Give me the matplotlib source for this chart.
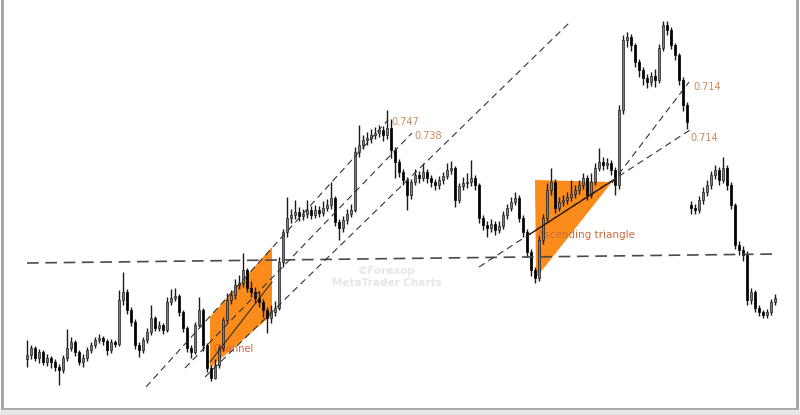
import numpy as np
import matplotlib
matplotlib.use('Agg')
import matplotlib.pyplot as plt
from matplotlib.patches import Polygon

# Candles (price level in chart units, one bar per period)
opens = [50, 54, 61, 51, 57, 47, 51, 47, 42, 39,
         51, 61, 67, 57, 47, 51, 59, 64, 69, 71,
         68, 59, 67, 65, 109, 117, 99, 87, 64, 59,
         69, 77, 91, 81, 84, 79, 107, 111, 113, 97,
         81, 61, 57, 84, 99, 64, 41, 31, 44, 61,
         89, 109, 114, 124, 126, 139, 121, 117, 111, 107,
         99, 91, 97, 101, 147, 177, 191, 194, 197, 193,
         195, 199, 194, 199, 196, 201, 204, 211, 187, 181,
         189, 195, 199, 257, 264, 269, 271, 274, 276, 279,
         274, 281, 259, 247, 237, 229, 214, 227, 234, 231,
         237, 231, 227, 224, 229, 233, 239, 241, 209, 223,
         226, 227, 231, 224, 191, 184, 181, 185, 179, 183,
         194, 201, 207, 211, 191, 177, 157, 139, 131, 169,
         191, 219, 227, 201, 207, 209, 212, 215, 219, 224,
         231, 214, 227, 241, 247, 244, 246, 239, 224, 299,
         369, 372, 364, 347, 339, 331, 327, 333, 329, 361,
         384, 379, 364, 354, 329, 304, 204, 201, 199, 209,
         217, 224, 234, 239, 229, 241, 224, 204, 164, 159,
         154, 109, 117, 101, 97, 94, 97, 107]
closes = [54, 61, 51, 57, 47, 51, 47, 42, 39, 51,
          61, 67, 57, 47, 51, 59, 64, 69, 71, 68,
          59, 67, 65, 109, 117, 99, 87, 64, 59, 69,
          77, 91, 81, 84, 79, 107, 111, 113, 97, 81,
          61, 57, 84, 99, 64, 41, 31, 44, 61, 89,
          109, 114, 124, 126, 139, 121, 117, 111, 107, 99,
          91, 97, 101, 147, 177, 191, 194, 197, 193, 195,
          199, 194, 199, 196, 201, 204, 211, 187, 181, 189,
          195, 199, 257, 264, 269, 271, 274, 276, 279, 274,
          281, 259, 247, 237, 229, 214, 227, 234, 231, 237,
          231, 227, 224, 229, 233, 239, 241, 209, 223, 226,
          227, 231, 224, 191, 184, 181, 185, 179, 183, 194,
          201, 207, 211, 191, 177, 157, 139, 131, 169, 191,
          219, 227, 201, 207, 209, 212, 215, 219, 224, 231,
          214, 227, 241, 247, 244, 246, 239, 224, 299, 369,
          372, 364, 347, 339, 331, 327, 333, 329, 361, 384,
          379, 364, 354, 329, 304, 287, 201, 199, 209, 217,
          224, 234, 239, 229, 241, 224, 204, 164, 159, 154,
          109, 117, 101, 97, 94, 97, 107, 111]
highs = [69, 64, 63, 60, 59, 55, 53, 50, 45, 54,
         80, 72, 69, 59, 55, 62, 67, 72, 75, 73,
         70, 70, 69, 119, 137, 120, 102, 90, 67, 72,
         81, 104, 93, 88, 86, 112, 120, 121, 115, 99,
         83, 64, 87, 112, 101, 66, 44, 50, 64, 92,
         116, 119, 130, 134, 156, 141, 128, 122, 118, 110,
         102, 104, 108, 152, 180, 212, 200, 209, 202, 200,
         209, 203, 204, 203, 208, 210, 227, 213, 190, 193,
         200, 205, 262, 284, 274, 277, 280, 282, 284, 283,
         299, 290, 262, 250, 240, 232, 230, 240, 238, 246,
         240, 234, 230, 233, 237, 246, 248, 243, 226, 232,
         236, 249, 234, 226, 194, 188, 190, 188, 188, 198,
         205, 212, 217, 214, 194, 180, 160, 142, 173, 195,
         226, 241, 230, 212, 214, 217, 229, 224, 229, 236,
         234, 236, 246, 261, 252, 251, 249, 242, 304, 374,
         377, 375, 366, 350, 342, 335, 337, 340, 365, 388,
         388, 382, 366, 356, 332, 307, 208, 205, 213, 222,
         229, 238, 244, 242, 252, 244, 227, 206, 168, 163,
         158, 121, 119, 104, 99, 100, 110, 115]
lows = [42, 50, 48, 46, 44, 43, 41, 38, 24, 36,
        48, 58, 53, 44, 42, 48, 56, 61, 66, 64,
        54, 56, 62, 63, 104, 95, 83, 60, 52, 56,
        66, 74, 78, 78, 75, 77, 104, 108, 93, 77,
        57, 51, 55, 82, 58, 37, 28, 30, 41, 58,
        86, 105, 110, 120, 122, 117, 112, 106, 102, 92,
        76, 86, 93, 99, 142, 172, 186, 190, 188, 189,
        191, 190, 191, 192, 193, 198, 200, 183, 169, 177,
        185, 192, 197, 252, 260, 264, 266, 270, 272, 268,
        270, 251, 231, 232, 224, 199, 210, 224, 226, 228,
        226, 222, 219, 220, 225, 230, 235, 202, 206, 219,
        221, 223, 219, 186, 179, 172, 177, 174, 176, 180,
        190, 198, 204, 187, 172, 152, 133, 126, 128, 165,
        188, 214, 196, 198, 203, 205, 208, 211, 215, 220,
        209, 211, 224, 238, 239, 240, 234, 214, 220, 295,
        362, 358, 342, 332, 324, 321, 323, 322, 326, 358,
        374, 360, 349, 324, 298, 280, 195, 195, 196, 205,
        213, 220, 230, 224, 226, 219, 200, 160, 154, 148,
        104, 105, 97, 93, 91, 91, 94, 104]

# Drawing objects (bar index, level)
support_x = [0, 187]
support_y = [146, 155]
channel_x = [45.75, 61.25, 61.25, 45.75]
channel_y = [92, 162, 94, 41]
channel_mid_x = [45.75, 61.25]
channel_mid_y = [47, 127]
triangle_x = [127, 146.25, 127.25]
triangle_y = [229, 227, 131]
tri_support_x = [125, 146.25]
tri_support_y = [173, 228]
# dashed trend lines: (x0, x1), (y0, y1)
trend_lines = [
    ([29.75, 90.25], [22, 289]),     # 0.747
    ([39.5, 96.25], [41, 276]),      # 0.738
    ([44.5, 135.5], [32, 386]),      # long outer line
    ([113, 165.75], [142, 279]),     # lower 0.714
    ([146.25, 165.5], [226, 327]),   # upper 0.714
]
level_labels = ['0.747', '0.738', '0.714', '0.714']
level_label_x = [91, 96.75, 166.5, 165.75]
level_label_y = [287, 273, 322, 271]

o = np.array(opens)
h = np.array(highs)
l = np.array(lows)
c = np.array(closes)
idx = np.arange(len(c))
up = c >= o

fig = plt.figure(figsize=(8, 4.15), dpi=100)
fig.patch.set_facecolor('white')
ax = fig.add_axes([2 / 800, 6 / 415, 795 / 800, 409 / 415])
ax.set_xlim(-6.25, 192.5)
ax.set_ylim(0, 409)
ax.set_xticks([])
ax.set_yticks([])
for side in ['left', 'bottom', 'right']:
    ax.spines[side].set_color('#a0a0a0')
    ax.spines[side].set_linewidth(2)
ax.spines['top'].set_visible(False)

# shadow strip under the frame
fig.patches.append(plt.Rectangle((0, 0), 1, 5 / 415, transform=fig.transFigure,
                                 color='#e6e6e6', zorder=0))

# orange pattern shapes
ax.add_patch(Polygon(list(zip(channel_x, channel_y)), closed=True,
                     facecolor='#fb8c1c', edgecolor='none', zorder=1))
ax.add_patch(Polygon(list(zip(triangle_x, triangle_y)), closed=True,
                     facecolor='#fb8c1c', edgecolor='none', zorder=1))

# pattern names sit under the candles
ax.text(46.5, 60, 'Channel', color='#d9603a', fontsize=7, va='center', zorder=2)
ax.text(127.5, 174, 'Ascending triangle', color='#cf6a3a', fontsize=7.5,
        va='center', zorder=2)

# watermark
ax.text(90, 138, '©Forexop', color='#e6e6e6', fontsize=7.5, fontweight='bold',
        ha='center', va='center', zorder=2)
ax.text(90, 126, 'MetaTrader Charts', color='#e6e6e6', fontsize=7.5,
        fontweight='bold', ha='center', va='center', zorder=2)

# candles
ax.vlines(idx, l, h, color='#1a1a1a', lw=1.0, zorder=3)
ax.bar(idx[up], (c - o)[up], bottom=o[up], width=0.72, color='#7c7c7c',
       edgecolor='#222222', lw=0.5, zorder=4)
ax.bar(idx[~up], (o - c)[~up], bottom=c[~up], width=0.72, color='black',
       edgecolor='black', lw=0.5, zorder=4)

# lines
ax.plot(support_x, support_y, color='#4a4a4a', lw=1.2, ls=(0, (7, 4)), zorder=5)
for xs, ys in trend_lines:
    ax.plot(xs, ys, color='#333333', lw=0.8, ls=(0, (6, 4)), zorder=5)
ax.plot(channel_mid_x, channel_mid_y, color='#3a2a20', lw=0.8, zorder=5)
ax.plot(tri_support_x, tri_support_y, color='#2a1a10', lw=1.0, zorder=5)

for txt, lx, ly in zip(level_labels, level_label_x, level_label_y):
    ax.text(lx, ly, txt, color='#c98a5a', fontsize=7, va='center', zorder=6)

fig.savefig('out.png', dpi=100, facecolor='white')
